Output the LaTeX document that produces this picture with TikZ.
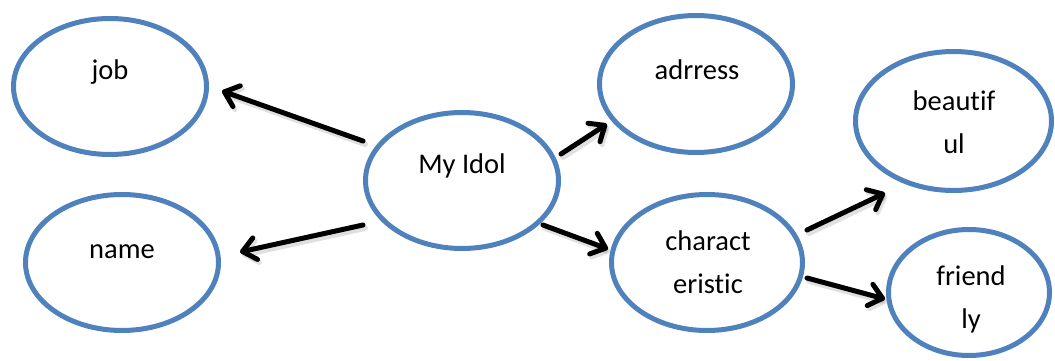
\documentclass[tikz,border=0pt]{standalone}
\usepackage{fontspec}
\setmainfont[Ligatures=NoCommon]{Carlito}
\usetikzlibrary{arrows.meta,shapes.geometric}
\definecolor{bubbleblue}{HTML}{4F81BD}
\tikzset{
  bubble/.style={ellipse, draw=bubbleblue, line width=5pt, inner sep=0pt, fill=white},
  word/.style={anchor=base, align=center, inner sep=0pt, font=\fontsize{28.5}{43}\selectfont},
  tip/.style={-{Straight Barb[length=13pt, width=22pt, line width=5pt, round]}},
  link/.style={tip, line width=5pt, draw=black, line cap=round},
  linkshade/.style={tip, line width=6pt, draw=black, draw opacity=0.12, line cap=round,
    transform canvas={shift={(2pt,-3pt)}}},
}
\begin{document}
\begin{tikzpicture}[x=1pt, y=-1pt]
  \useasboundingbox (0,0) rectangle (1055,361);

  % bubbles
  \node[bubble, minimum width=193pt, minimum height=136pt] (job)   at (110,86.5) {};
  \node[bubble, minimum width=193pt, minimum height=136pt] (name)  at (122,262.5) {};
  \node[bubble, minimum width=193pt, minimum height=136pt] (idol)  at (462,180.5) {};
  \node[bubble, minimum width=193pt, minimum height=137pt] (addr)  at (696,84) {};
  \node[bubble, minimum width=191pt, minimum height=136pt] (chara) at (707,262.5) {};
  \node[bubble, minimum width=196pt, minimum height=139pt] (beau)  at (953.5,121) {};
  \node[bubble, minimum width=161pt, minimum height=126pt] (frnd)  at (969,292.5) {};

  % words inside the bubbles (base = baseline of the last line)
  \node[word] (jobT)   at (110,80)  {job};
  \node[word] (nameT)  at (122,258) {name};
  \node[word] (idolT)  at (462,173) {My Idol};
  \node[word] (addrT)  at (697,79)  {adrress};
  \node[word] (charaT) at (708,293) {charact\\eristic};
  \node[word] (beauT)  at (954,153) {beautif\\ul};
  \node[word] (frndT)  at (971,328) {friend\\ly};

  % arrows, each with a faint drop shadow
  \foreach \s in {linkshade, link} {
    \draw[\s] ([shift={(-99,-39.5)}]idol.center) -- ([shift={(112,4.5)}]job.center);
    \draw[\s] ([shift={(-99,44.5)}]idol.center)  -- ([shift={(118,-10.5)}]name.center);
    \draw[\s] ([shift={(99,-26.5)}]idol.center)  -- ([shift={(-89,40)}]addr.center);
    \draw[\s] ([shift={(81,44.5)}]idol.center)   -- ([shift={(-99,-13.5)}]chara.center);
    \draw[\s] ([shift={(100,-32.5)}]chara.center) -- ([shift={(-68.5,72)}]beau.center);
    \draw[\s] ([shift={(100,15.5)}]chara.center)  -- ([shift={(-84,6.5)}]frnd.center);
  }
\end{tikzpicture}
\end{document}
